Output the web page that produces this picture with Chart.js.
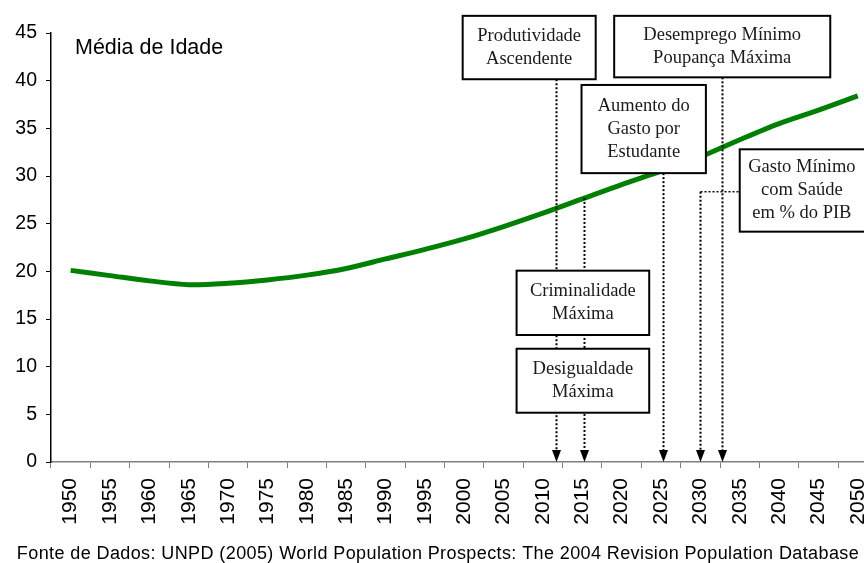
<!DOCTYPE html>
<html>
<head>
<meta charset="utf-8">
<script src="https://cdn.jsdelivr.net/npm/chart.js@4"></script>
<style>
  html, body { margin: 0; padding: 0; overflow: hidden; background: #fff; }
  canvas { display: block; }
</style>
</head>
<body>
<canvas id="chart" width="893" height="563"></canvas>
<script>
// Median age, 1950-2050 (UNPD 2004 revision).
const years = ['1950', '1955', '1960', '1965', '1970', '1975', '1980', '1985', '1990', '1995',
  '2000', '2005', '2010', '2015', '2020', '2025', '2030', '2035', '2040', '2045', '2050'];
const medianAge = [20.1, 19.55, 19.0, 18.6, 18.75, 19.1, 19.6, 20.3, 21.3, 22.3,
  23.4, 24.7, 26.1, 27.6, 29.1, 30.5, 32.0, 33.8, 35.5, 36.9, 38.4];
const seriesLabel = 'Média de Idade';
const sourceNote = 'Fonte de Dados: UNPD (2005) World Population Prospects: The 2004 Revision Population Database';

// Milestone markers: year each arrow points at, and the captions of the boxes.
const milestoneYears = [2011.6, 2015.2, 2025.2, 2029.9, 2032.8];
const boxTexts = [
  ['Produtividade', 'Ascendente'],
  ['Desemprego Mínimo', 'Poupança Máxima'],
  ['Aumento do', 'Gasto por', 'Estudante'],
  ['Gasto Mínimo', 'com Saúde', 'em % do PIB'],
  ['Criminalidade', 'Máxima'],
  ['Desigualdade', 'Máxima'],
];

// -----------------------------------------------------------------------------
// Layout of the callouts, in data space (year, age) so it follows the scales.
// -----------------------------------------------------------------------------
const boxLayout = [
  { x0: 1999.8, x1: 2016.7, top: 46.8, bottom: 40.15 },
  { x0: 2019.05, x1: 2046.5, top: 46.8, bottom: 40.35 },
  { x0: 2014.9, x1: 2030.7, top: 39.55, bottom: 30.3 },
  { x0: 2035.0, x1: 2051.3, top: 32.8, bottom: 24.16 },
  { x0: 2006.65, x1: 2023.5, top: 20.07, bottom: 13.32 },
  { x0: 2006.65, x1: 2023.5, top: 11.88, bottom: 5.17 },
];
const arrowLayout = [
  { from: 40.15 },
  { from: 27.7 },
  { from: 30.3 },
  { from: 28.35, elbowTo: 2035.0 },
  { from: 40.35 },
];

const SANS = '"Liberation Sans", Arial, sans-serif';
const SERIF = '"Liberation Serif", "Times New Roman", serif';
const VIEW_W = 864; // visible page width; the plot runs slightly past it

const calloutPlugin = {
  id: 'callouts',
  afterDatasetsDraw(chart) {
    const xs = chart.scales.x;
    const ys = chart.scales.y;
    const px = (year) => xs.getPixelForValue((year - 1950) / 5);
    const py = (v) => ys.getPixelForValue(v);
    const ctx = chart.ctx;
    const base = chart.chartArea.bottom;

    ctx.save();
    // dotted arrows
    ctx.strokeStyle = '#000';
    ctx.fillStyle = '#000';
    milestoneYears.forEach((yr, i) => {
      const a = arrowLayout[i];
      const x = Math.round(px(yr)) + 0.5;
      const y0 = py(a.from);
      ctx.lineWidth = 2;
      ctx.setLineDash([2, 2]);
      ctx.beginPath();
      ctx.moveTo(x, y0);
      ctx.lineTo(x, base - 10);
      ctx.stroke();
      if (a.elbowTo != null) {
        ctx.lineWidth = 1.5;
        ctx.beginPath();
        ctx.moveTo(x, y0);
        ctx.lineTo(px(a.elbowTo), y0);
        ctx.stroke();
      }
      ctx.setLineDash([]);
      ctx.beginPath();
      ctx.moveTo(x - 4.5, base - 12);
      ctx.lineTo(x + 4.5, base - 12);
      ctx.lineTo(x, base);
      ctx.closePath();
      ctx.fill();
    });

    // boxes
    ctx.font = '18.5px ' + SERIF;
    ctx.textAlign = 'center';
    ctx.textBaseline = 'middle';
    boxTexts.forEach((lines, i) => {
      const b = boxLayout[i];
      const x0 = px(b.x0), x1 = px(b.x1), y0 = py(b.top), y1 = py(b.bottom);
      ctx.fillStyle = '#fff';
      ctx.fillRect(x0, y0, x1 - x0, y1 - y0);
      ctx.lineWidth = 2;
      ctx.strokeStyle = '#000';
      ctx.strokeRect(x0, y0, x1 - x0, y1 - y0);
      ctx.fillStyle = '#1a1a1a';
      const lh = 23;
      const cy = (y0 + y1) / 2;
      const cx = (x0 + Math.min(x1, VIEW_W)) / 2;
      lines.forEach((t, k) => {
        ctx.fillText(t, cx, cy + (k - (lines.length - 1) / 2) * lh);
      });
    });

    // series label
    ctx.fillStyle = '#000';
    ctx.textAlign = 'left';
    ctx.textBaseline = 'alphabetic';
    ctx.font = '21.5px ' + SANS;
    ctx.fillText(seriesLabel, 75, 53.5);

    // source note
    ctx.textAlign = 'center';
    ctx.font = '18px ' + SANS;
    ctx.letterSpacing = '0.4px';
    ctx.fillText(sourceNote, 438, 559);
    ctx.restore();
  },
};

new Chart(document.getElementById('chart'), {
  type: 'line',
  data: {
    labels: years,
    datasets: [{
      label: seriesLabel,
      data: medianAge,
      borderColor: '#008000',
      backgroundColor: 'transparent',
      borderWidth: 5,
      pointRadius: 0,
      tension: 0.3,
    }],
  },
  options: {
    responsive: false,
    animation: false,
    layout: { padding: { top: 33, bottom: 31, left: 0, right: 0 } },
    plugins: {
      legend: { display: false },
      tooltip: { enabled: false },
    },
    scales: {
      x: {
        type: 'category',
        offset: true,
        grid: { offset: true, drawOnChartArea: false, tickLength: 6, color: '#808080' },
        border: { color: '#808080', width: 1.5 },
        ticks: {
          autoSkip: false, minRotation: 90, maxRotation: 90, padding: 10,
          color: '#000', font: { family: SANS, size: 21 },
        },
        afterFit: (s) => { s.height = 70; },
      },
      y: {
        min: 0,
        max: 45,
        grid: { drawOnChartArea: false, tickLength: 5, color: '#000' },
        border: { color: '#000', width: 1.5 },
        ticks: { stepSize: 5, padding: 9, color: '#000', font: { family: SANS, size: 19.5 } },
        afterFit: (s) => { s.width = 51; },
      },
    },
  },
  plugins: [calloutPlugin],
});
</script>
</body>
</html>
